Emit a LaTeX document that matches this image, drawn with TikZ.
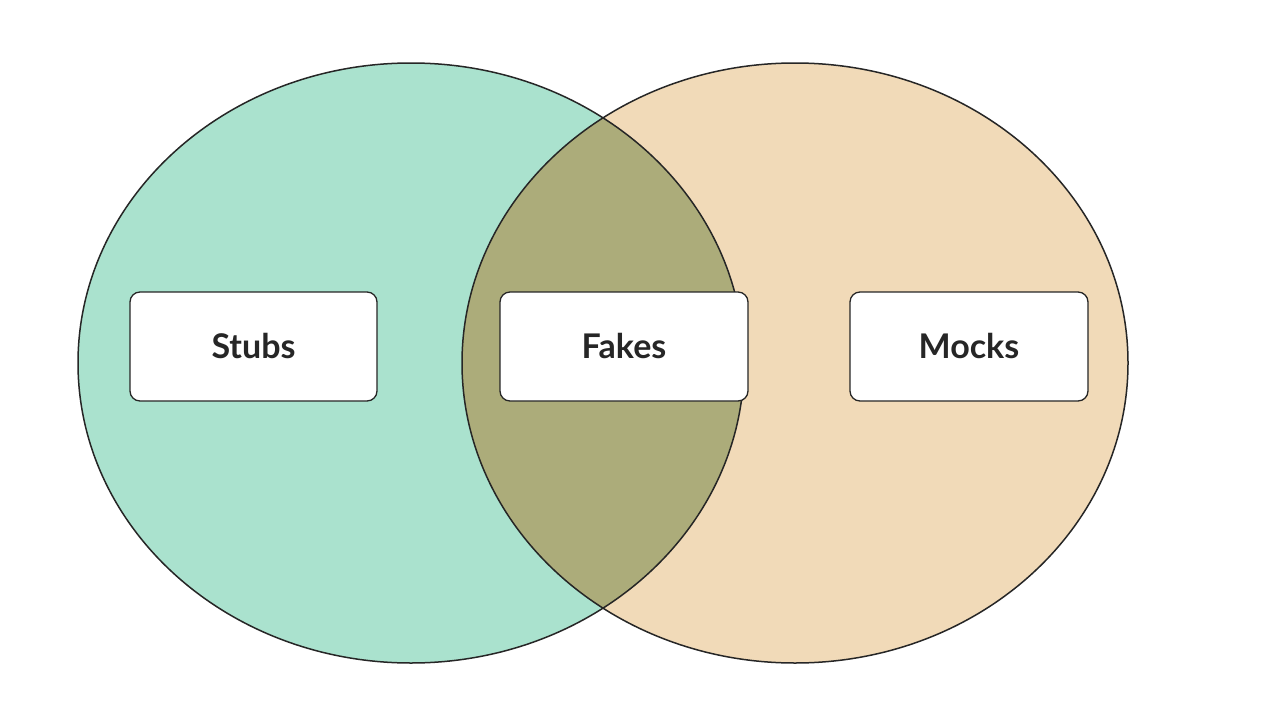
\documentclass[tikz,border=0pt]{standalone}
\usepackage{fontspec}
\setmainfont{Lato}
\begin{document}
\begin{tikzpicture}[x=1pt,y=-1pt,
  lbl/.style={draw=black!85,line width=1.3pt,fill=white,rounded corners=10pt,minimum height=109pt,font=\fontsize{34}{40}\selectfont\bfseries,text=black!85}]
\useasboundingbox (0,0) rectangle (1280,720);
\fill[white] (0,0) rectangle (1280,720);
\fill[fill={rgb,255:red,170;green,226;blue,206}] (411,363) ellipse [x radius=333,y radius=300];
\fill[fill={rgb,255:red,241;green,218;blue,184}] (795,363) ellipse [x radius=333,y radius=300];
\begin{scope}
\clip (411,363) ellipse [x radius=333,y radius=300];
\fill[fill={rgb,255:red,172;green,172;blue,122}] (795,363) ellipse [x radius=333,y radius=300];
\end{scope}
\draw[line width=1.5pt,black!85] (411,363) ellipse [x radius=333,y radius=300];
\draw[line width=1.5pt,black!85] (795,363) ellipse [x radius=333,y radius=300];
\node[lbl,minimum width=247pt] (stubs) at (253.5,346.5) {Stubs};
\node[lbl,minimum width=248pt] (fakes) at (624,346.5) {Fakes};
\node[lbl,minimum width=238pt] (mocks) at (969,346.5) {Mocks};
\end{tikzpicture}
\end{document}
